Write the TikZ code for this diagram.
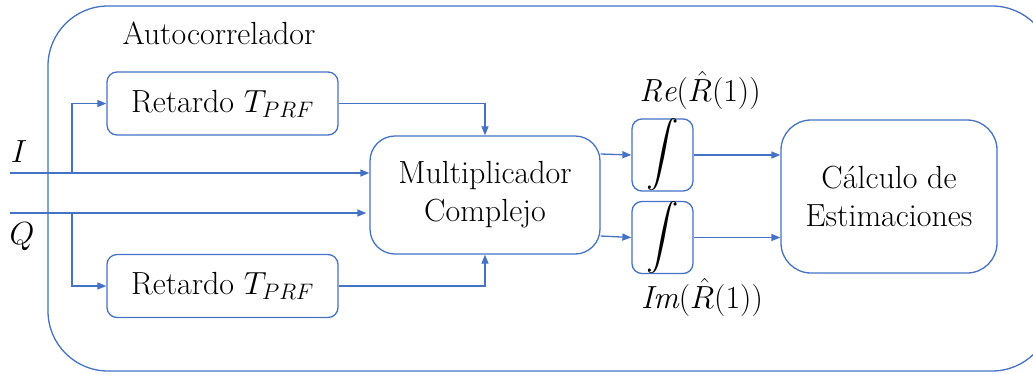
\RequirePackage{fix-cm}
\documentclass[tikz,border=0pt]{standalone}
\usepackage{fontspec}
\usetikzlibrary{arrows.meta}
\definecolor{ofblue}{HTML}{4472C4}
\tikzset{
  blk/.style={draw=ofblue, line width=1.3pt, rounded corners=#1, inner sep=0pt, align=center},
  conn/.style={draw=ofblue, line width=1.3pt, -{Triangle[length=9pt,width=7pt]}},
  lbl/.style={inner sep=0pt}
}
\newcommand{\bigint}{\resizebox{!}{62pt}{$\displaystyle\int$}}
\begin{document}
\begin{tikzpicture}[x=1pt,y=-1pt,font=\fontsize{32}{38}\selectfont]
\useasboundingbox (0,0) rectangle (1033,373);
\draw[ofblue, line width=1.3pt, rounded corners=60] (48,6) rectangle (1052,371);
\node[lbl] (auto) at (219,33) {Autocorrelador};
\node[blk=10, minimum width=231, minimum height=63] (rt) at (222.5,103.5) {Retardo $T_{PRF}$};
\node[blk=10, minimum width=231, minimum height=63] (rb) at (222.5,286) {Retardo $T_{PRF}$};
\node[blk=25, minimum width=230, minimum height=118] (mult) at (485,195) {Multiplicador\\Complejo};
\node[blk=10, minimum width=61, minimum height=70] (int1) at (662.5,155) {\bigint};
\node[blk=10, minimum width=61, minimum height=71] (int2) at (662.5,237.5) {\bigint};
\node[blk=30, minimum width=216, minimum height=153] (calc) at (889,196.5) {Cálculo de\\Estimaciones};
\node[lbl] (re) at (700,90) {$\mathit{Re}(\hat{R}(1))$};
\node[lbl] (im) at (702,297) {$\mathit{Im}(\hat{R}(1))$};
\node[lbl] (ilab) at (19,152) {$I$};
\node[lbl] (qlab) at (22,237) {$Q$};
\coordinate (is) at (10,173);
\coordinate (qs) at (10,213);
\coordinate (ib) at (72,173);
\coordinate (qb) at (72,213);
\draw[conn] (is) -- (is -| mult.west);
\draw[conn] (qs) -- ([xshift=-3pt]qs -| mult.west);
\draw[conn] (ib) |- (rt.west);
\draw[conn] (qb) |- (rb.west);
\draw[conn] (rt.east) -| (mult.north);
\draw[conn] (rb.east) -| (mult.south);
\draw[conn] (mult.east |- 0,154) -- (int1.west);
\draw[conn] (mult.east |- 0,236) -- (int2.west);
\draw[conn] (int1.east) -- (int1.east -| calc.west);
\draw[conn] (int2.east) -- (int2.east -| calc.west);
\end{tikzpicture}
\end{document}
